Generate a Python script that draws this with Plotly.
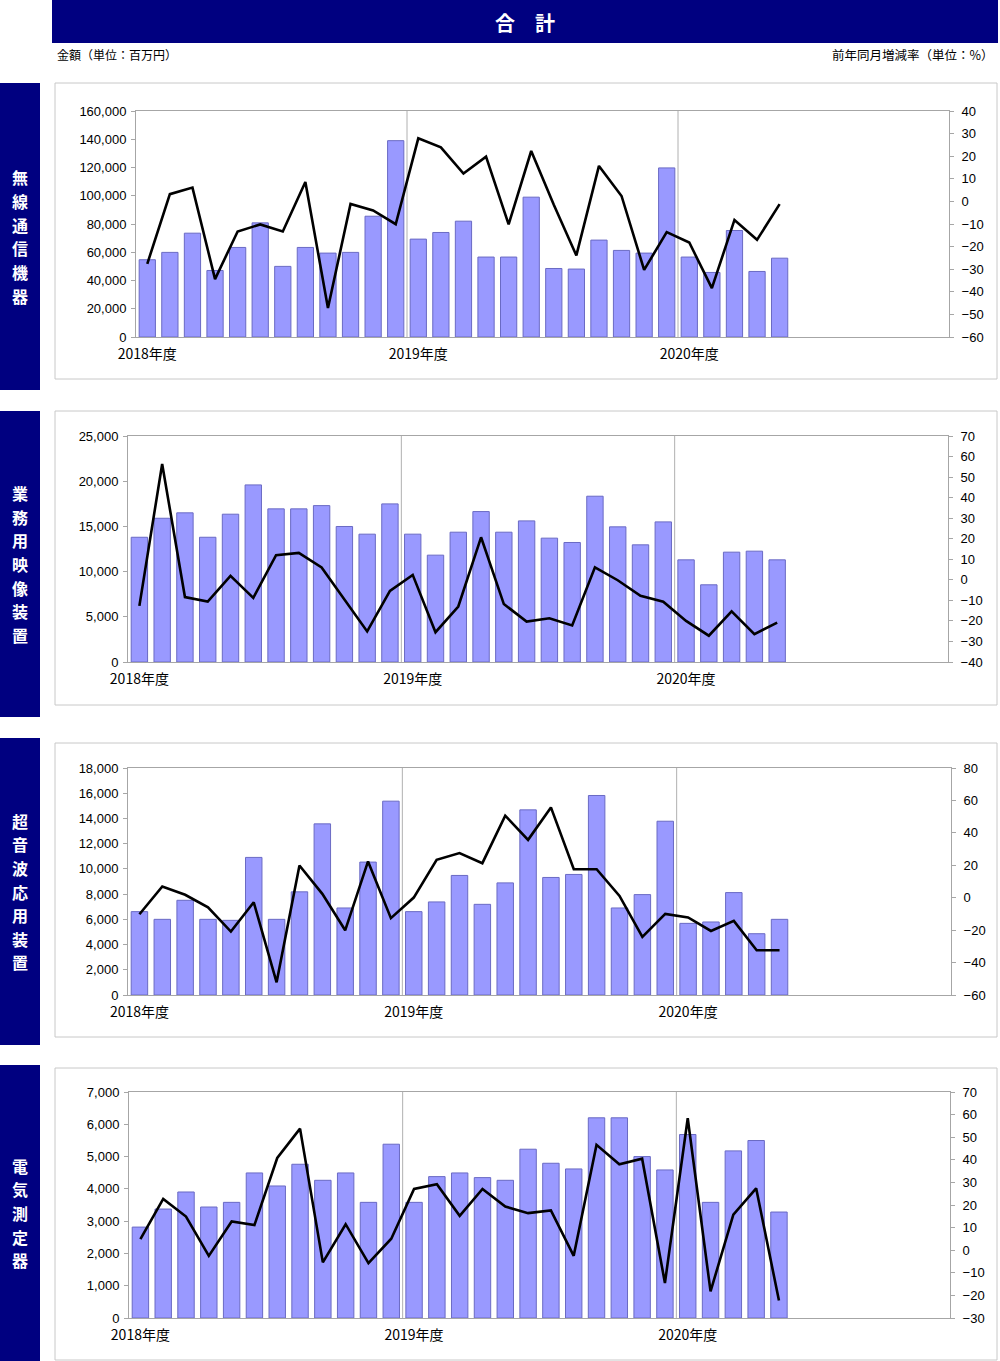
import plotly.graph_objects as go

# ---------------- data ----------------
months = ["2018/4", "2018/5", "2018/6", "2018/7", "2018/8", "2018/9", "2018/10", "2018/11", "2018/12",
          "2019/1", "2019/2", "2019/3",
          "2019/4", "2019/5", "2019/6", "2019/7", "2019/8", "2019/9", "2019/10", "2019/11", "2019/12",
          "2020/1", "2020/2", "2020/3",
          "2020/4", "2020/5", "2020/6", "2020/7", "2020/8"]
# full fiscal-year slots (Apr 2018 - Mar 2021) so that the axis spans 3 years
all_slots = months + ["2020/9", "2020/10", "2020/11", "2020/12", "2021/1", "2021/2", "2021/3"]
fy_ticks = ["2018/4", "2019/4", "2020/4"]
fy_labels = ["2018年度", "2019年度", "2020年度"]

wireless_amt = [54700, 59900, 73500, 47100, 63400, 80800, 50000, 63400, 59400, 59900, 85500, 139000,
                69300, 74000, 82000, 56600, 56600, 99000, 48500, 48100, 68600, 61300, 59400, 119700,
                56600, 45700, 75400, 46400, 55800]
wireless_yoy = [-27.6, 3.2, 6.1, -34.4, -13.3, -10.2, -13.3, 8.6, -47.2, -1.1, -4.0, -10.1,
                27.9, 23.9, 12.3, 19.8, -10.2, 22.3, -1.5, -23.9, 15.7, 2.4, -30.3, -13.6,
                -18.2, -38.4, -8.2, -17.0, -1.2]

video_amt = [13800, 15900, 16500, 13800, 16350, 19590, 16940, 16940, 17300, 14990, 14140, 17490,
             14140, 11820, 14360, 16640, 14360, 15610, 13700, 13220, 18340, 14950, 12960, 15500,
             11300, 8540, 12150, 12260, 11300]
video_yoy = [-12.7, 56.4, -8.4, -10.6, 1.9, -8.8, 12.0, 13.1, 6.0, -9.3, -25.1, -5.4,
             2.4, -25.5, -13.0, 20.7, -11.8, -20.3, -18.7, -22.2, 6.1, -0.2, -7.8, -10.7,
             -20.0, -27.2, -15.3, -26.4, -20.8]

ultra_amt = [6610, 6000, 7510, 6000, 5920, 10910, 6000, 8180, 13570, 6900, 10540, 15370,
             6610, 7380, 9480, 7190, 8890, 14680, 9320, 9560, 15820, 6900, 7960, 13780,
             5680, 5790, 8120, 4860, 6000]
ultra_yoy = [-10.2, 6.9, 1.8, -5.9, -20.9, -2.8, -52.2, 19.9, 2.4, -20.1, 22.4, -12.6,
             0.1, 23.4, 27.5, 21.3, 50.6, 35.7, 55.7, 17.6, 17.6, 1.1, -24.2, -10.0,
             -12.2, -20.5, -14.3, -32.4, -32.4]

meter_amt = [2816, 3375, 3903, 3437, 3582, 4493, 4089, 4762, 4265, 4493, 3582, 5383,
             3582, 4379, 4493, 4348, 4265, 5228, 4793, 4617, 6201, 6201, 5000, 4586,
             5683, 3582, 5176, 5497, 3282]
meter_yoy = [4.9, 22.7, 14.9, -2.5, 12.7, 11.1, 40.8, 53.8, -5.4, 11.5, -5.7, 5.1,
             27.1, 29.2, 15.2, 27.1, 19.3, 16.4, 17.6, -2.5, 46.6, 38.0, 40.5, -14.5,
             58.4, -18.2, 15.7, 27.4, -22.3]

panel_names = ["無線通信機器", "業務用映像装置", "超音波応用装置", "電気測定器"]
panel_amts = [wireless_amt, video_amt, ultra_amt, meter_amt]
panel_yoys = [wireless_yoy, video_yoy, ultra_yoy, meter_yoy]
left_ranges = [(0, 160000, 20000), (0, 25000, 5000), (0, 18000, 2000), (0, 7000, 1000)]
right_ranges = [(-60, 40, 10), (-40, 70, 10), (-60, 80, 20), (-30, 70, 10)]

title_text = "合　計"
left_unit = "金額（単位：百万円）"
right_unit = "前年同月増減率（単位：%）"

# ---------------- layout geometry (pixels) ----------------
W, H = 1000, 1361
plot_px = [(136, 949, 111, 337), (128, 948, 436, 662), (128, 951, 768, 995), (129, 950, 1092, 1318)]
box_px = [(55, 997, 83, 379), (55, 997, 411, 705), (55, 997, 743, 1037), (55, 997, 1068, 1360)]
side_px = [(0, 40, 83, 390), (0, 40, 411, 717), (0, 40, 738, 1045), (0, 40, 1065, 1361)]
CHAR_STEP = 23.6

def px(x):
    return x / W

def py(y):
    return 1 - y / H

FONT = "Liberation Sans, Noto Sans CJK JP, sans-serif"
CJK = "Noto Sans CJK JP, sans-serif"
AXIS_GRAY = "#A6A6A6"

fig = go.Figure()
layout = dict(
    template="none",
    width=W, height=H, autosize=False,
    margin=dict(l=0, r=0, t=0, b=0, pad=0, autoexpand=False),
    paper_bgcolor="white", plot_bgcolor="white",
    showlegend=False,
    font=dict(family=FONT, size=13, color="black"),
    shapes=[], annotations=[],
)

for i in range(4):
    xa = "x" if i == 0 else f"x{i+1}"
    yl = f"y{2*i+1}" if i > 0 else "y"
    yr = f"y{2*i+2}"
    xkey = "xaxis" if i == 0 else f"xaxis{i+1}"
    ylkey = "yaxis" if i == 0 else f"yaxis{2*i+1}"
    yrkey = f"yaxis{2*i+2}"
    x0, x1, y0, y1 = plot_px[i]

    fig.add_trace(go.Bar(
        x=months, y=panel_amts[i], xaxis=xa, yaxis=yl,
        marker=dict(color="#9999FF", line=dict(color="#6A6AC4", width=1)),
        width=0.72,
    ))
    fig.add_trace(go.Scatter(
        x=months, y=panel_yoys[i], xaxis=xa, yaxis=yr, mode="lines",
        line=dict(color="black", width=2.6),
    ))

    layout[xkey] = dict(
        domain=[px(x0), px(x1)], anchor=yl, automargin=False,
        type="category", categoryorder="array", categoryarray=all_slots,
        range=[-0.5, len(all_slots) - 0.5],
        tickmode="array", tickvals=fy_ticks, ticktext=fy_labels,
        ticks="", showgrid=False, zeroline=False, ticklabelstandoff=4,
        showline=True, linecolor=AXIS_GRAY, linewidth=1, mirror=True,
        tickfont=dict(family=CJK, size=14, color="black"),
        fixedrange=True,
    )
    lo, hi, dt = left_ranges[i]
    layout[ylkey] = dict(
        domain=[py(y1), py(y0)], anchor=xa, side="left", automargin=False,
        range=[lo, hi], dtick=dt, tick0=0, tickformat=",d",
        ticks="outside", ticklen=4, tickcolor=AXIS_GRAY,
        showgrid=False, zeroline=False, ticklabelstandoff=2,
        showline=True, linecolor=AXIS_GRAY, linewidth=1,
        tickfont=dict(family=FONT, size=13, color="black"),
        fixedrange=True,
    )
    rlo, rhi, rdt = right_ranges[i]
    layout[yrkey] = dict(
        domain=[py(y1), py(y0)], anchor=xa, overlaying=yl, side="right", automargin=False,
        range=[rlo, rhi], dtick=rdt, tick0=0,
        ticks="outside", ticklen=4, tickcolor=AXIS_GRAY,
        showgrid=False, zeroline=False, ticklabelstandoff=5,
        showline=True, linecolor=AXIS_GRAY, linewidth=1,
        tickfont=dict(family=FONT, size=13, color="black"),
        fixedrange=True,
    )

    # fiscal-year separators
    for k in (1, 2):
        xsep = all_slots.index(fy_ticks[k]) - 0.5
        layout["shapes"].append(dict(
            type="line", xref=xa, yref=f"{yl} domain", x0=xsep, x1=xsep, y0=0, y1=1,
            line=dict(color="#B0B0B0", width=1), layer="below",
        ))

    # chart frame
    bx0, bx1, by0, by1 = box_px[i]
    layout["shapes"].append(dict(
        type="rect", xref="paper", yref="paper",
        x0=px(bx0), x1=px(bx1), y0=py(by1), y1=py(by0),
        line=dict(color="#C8C8C8", width=1), fillcolor="rgba(0,0,0,0)", layer="below",
    ))
    # side navy label (vertical text, one character per row)
    sx0, sx1, sy0, sy1 = side_px[i]
    layout["shapes"].append(dict(
        type="rect", xref="paper", yref="paper",
        x0=px(sx0), x1=px(sx1), y0=py(sy1), y1=py(sy0),
        line=dict(width=0), fillcolor="#000080", layer="below",
    ))
    chars = list(panel_names[i])
    cy = (sy0 + sy1) / 2
    for j, ch in enumerate(chars):
        yy = cy + (j - (len(chars) - 1) / 2) * CHAR_STEP
        layout["annotations"].append(dict(
            xref="paper", yref="paper", x=px((sx0 + sx1) / 2), y=py(yy),
            text="<b>" + ch + "</b>", showarrow=False,
            font=dict(family=CJK, size=16, color="white"),
            xanchor="center", yanchor="middle",
        ))

# title bar
layout["shapes"].append(dict(
    type="rect", xref="paper", yref="paper",
    x0=px(52), x1=px(998), y0=py(43), y1=py(0),
    line=dict(width=0), fillcolor="#000080", layer="below",
))
layout["annotations"].append(dict(
    xref="paper", yref="paper", x=px(525), y=py(22), text="<b>" + title_text + "</b>", showarrow=False,
    font=dict(family=CJK, size=20, color="white"), xanchor="center", yanchor="middle",
))
layout["annotations"].append(dict(
    xref="paper", yref="paper", x=px(55), y=py(55), text=left_unit, showarrow=False,
    font=dict(family=CJK, size=12, color="black"), xanchor="left", yanchor="middle",
))
layout["annotations"].append(dict(
    xref="paper", yref="paper", x=px(996), y=py(55), text=right_unit, showarrow=False,
    font=dict(family=CJK, size=12.5, color="black"), xanchor="right", yanchor="middle",
))

fig.update_layout(**layout)
fig.write_html(
    "out.html",
    config=dict(displayModeBar=False, staticPlot=True),
    post_script="document.body.style.margin='0';document.body.style.overflow='hidden';",
)
